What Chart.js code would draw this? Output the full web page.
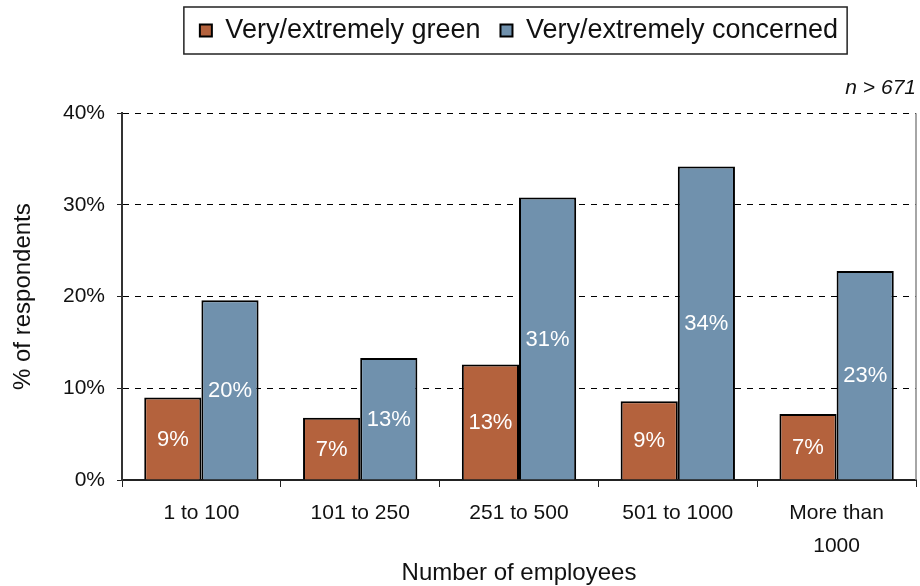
<!DOCTYPE html>
<html lang="en">
<head>
<meta charset="UTF-8">
<title>Number of employees</title>
<script src="https://cdn.jsdelivr.net/npm/chart.js@4.4.1/dist/chart.umd.min.js"></script>
<style>
    html, body { margin: 0; padding: 0; background: #fff; }
    #box { position: relative; width: 920px; height: 586px; }
</style>
</head>
<body>
<div id="box"><canvas id="grafico"></canvas></div>

<script>
    // categorias do eixo x (ultima quebrada em duas linhas)
    const categories = ['1 to 100', '101 to 250', '251 to 500', '501 to 1000', ['More than', '1000']]
    const green = [9.0, 6.8, 12.6, 8.6, 7.2]
    const concerned = [19.6, 13.3, 30.8, 34.2, 22.8]
    const yTicks = [0, 10, 20, 30, 40]

    const FONT = '"Liberation Sans", Arial, sans-serif'

    // rotulos brancos no meio de cada barra
    const barLabels = {
        id: 'barLabels',
        afterDatasetsDraw(chart) {
            const ctx = chart.ctx
            ctx.save()
            ctx.fillStyle = '#fff'
            ctx.font = '22px ' + FONT
            ctx.textAlign = 'center'
            ctx.textBaseline = 'middle'
            chart.data.datasets.forEach((ds, i) => {
                chart.getDatasetMeta(i).data.forEach((bar, j) => {
                    ctx.fillText(Math.round(ds.data[j]) + '%', bar.x, (bar.y + bar.base) / 2 + 1)
                })
            })
            ctx.restore()
        }
    }

    // moldura da legenda + borda direita da area do grafico
    const frames = {
        id: 'frames',
        afterDraw(chart) {
            const ctx = chart.ctx
            const boxes = chart.legend.legendHitBoxes
            ctx.save()
            if (boxes && boxes.length) {
                const left = Math.min(...boxes.map(b => b.left)) - 16
                const right = Math.max(...boxes.map(b => b.left + b.width)) + 9
                const top = boxes[0].top - 10
                const bottom = boxes[0].top + boxes[0].height + 10
                ctx.strokeStyle = '#222'
                ctx.lineWidth = 1.5
                ctx.strokeRect(left, top, right - left, bottom - top)
            }
            const a = chart.chartArea
            ctx.strokeStyle = '#888'
            ctx.lineWidth = 1.5
            ctx.beginPath()
            ctx.moveTo(a.right, a.top)
            ctx.lineTo(a.right, a.bottom)
            ctx.stroke()
            ctx.restore()
        }
    }

    const data = {
        labels: categories,
        datasets: [{
            label: 'Very/extremely green',
            data: green,
            backgroundColor: '#B4623D',
            borderColor: '#000',
            borderWidth: 2
        }, {
            label: 'Very/extremely concerned',
            data: concerned,
            backgroundColor: '#7091AD',
            borderColor: '#000',
            borderWidth: 2
        }]
    }

    const config = {
        type: 'bar',
        data: data,
        plugins: [barLabels, frames],
        options: {
            responsive: true,
            maintainAspectRatio: false,
            animation: false,
            datasets: {
                bar: { barPercentage: 1, categoryPercentage: 0.72 }
            },
            layout: { padding: { top: -3, right: 4, bottom: 0, left: 0 } },
            plugins: {
                legend: {
                    position: 'top',
                    fullSize: false,
                    weight: 3000,
                    labels: {
                        color: '#111',
                        font: { family: FONT, size: 27 },
                        boxWidth: 12,
                        boxHeight: 12,
                        padding: 20,
                        useBorderRadius: false
                    }
                },
                title: {
                    display: true,
                    fullSize: false,
                    text: 'n > 671',
                    align: 'end',
                    color: '#111',
                    font: { family: FONT, size: 21, style: 'italic', weight: 'normal' },
                    padding: { top: 22, bottom: 12 }
                },
                tooltip: { enabled: false }
            },
            scales: {
                x: {
                    afterFit(scale) { scale.height = 106 },
                    grid: {
                        display: true,
                        drawOnChartArea: false,
                        drawTicks: true,
                        tickLength: 7,
                        tickColor: '#222',
                        offset: true
                    },
                    border: { display: true, color: '#222', width: 2 },
                    ticks: {
                        color: '#111',
                        font: { family: FONT, size: 21, lineHeight: 1.55 },
                        padding: 10,
                        maxRotation: 0
                    },
                    title: {
                        display: true,
                        text: 'Number of employees',
                        color: '#111',
                        font: { family: FONT, size: 24 },
                        padding: { top: 0, bottom: -2 }
                    }
                },
                y: {
                    min: yTicks[0],
                    max: yTicks[yTicks.length - 1],
                    afterFit(scale) { scale.width = 122 },
                    afterBuildTicks(scale) { scale.ticks = yTicks.map(v => ({ value: v })) },
                    grid: {
                        color: '#000',
                        lineWidth: 1,
                        drawTicks: true,
                        tickLength: 5,
                        tickColor: '#222',
                        tickBorderDash: []
                    },
                    border: { display: true, color: '#333', width: 2, dash: [6, 6] },
                    ticks: {
                        color: '#111',
                        font: { family: FONT, size: 21 },
                        padding: 12,
                        callback: v => v + '%'
                    },
                    title: {
                        display: true,
                        text: '% of respondents',
                        color: '#111',
                        font: { family: FONT, size: 24 },
                        padding: { top: 9, bottom: 0 }
                    }
                }
            }
        }
    }

    const grafico = new Chart(document.getElementById('grafico'), config)
</script>
</body>
</html>
